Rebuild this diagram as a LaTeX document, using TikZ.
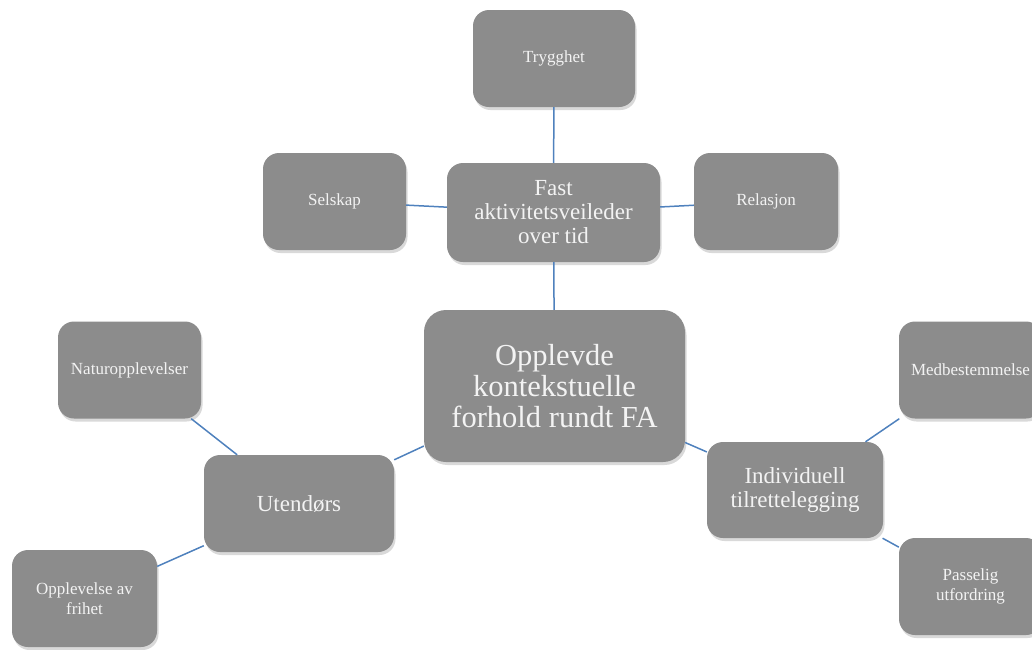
\documentclass[tikz,border=0pt]{standalone}
\usepackage{fontspec}
\setmainfont{Liberation Serif}
\usetikzlibrary{shadows}
\definecolor{boxgray}{RGB}{140,140,140}
\definecolor{linkblue}{RGB}{79,129,189}
\definecolor{boxtext}{RGB}{243,243,243}

\begin{document}
\begin{tikzpicture}[
			x=1pt, y=-1pt,
			box/.style={rectangle, rounded corners=16pt, minimum width=143pt, minimum height=97pt, align=center, fill=boxgray, text=boxtext, font=\fontsize{17}{20}\selectfont, drop shadow={opacity=0.3, shadow xshift=1.5pt, shadow yshift=-3pt}},
			midbox/.style={box, font=\fontsize{23}{24}\selectfont},
			mainbox/.style={box, rounded corners=22pt, font=\fontsize{30.5}{31}\selectfont},
			link/.style={draw=linkblue, line width=1.5pt}
			]
			\useasboundingbox (0,0) rectangle (1032,649);
			
			% Nodes
			\node[mainbox, minimum width=261pt, minimum height=152pt] (fa) at (554.5,386) {Opplevde\\kontekstuelle\\forhold rundt FA};
			
			\node[midbox, minimum width=213pt, minimum height=99pt] (fast) at (553.5,212.5) {Fast\\aktivitetsveileder\\over tid};
			\node[box, minimum width=162pt] (trygg) at (554,58.5) {Trygghet};
			\node[box] (selskap) at (334.5,201.5) {Selskap};
			\node[box, minimum width=144pt] (relasjon) at (766,201.5) {Relasjon};
			
			\node[midbox, minimum width=190pt] (ute) at (299,503.5) {Utendørs};
			\node[box] (natur) at (129.5,370) {Naturopplevelser};
			\node[box, minimum width=145pt] (frihet) at (84.5,598.5) {Opplevelse av\\frihet};
			
			\node[midbox, minimum width=176pt, minimum height=96pt] (individ) at (795,490) {Individuell\\tilrettelegging};
			\node[box] (medbest) at (970.5,370) {Medbestemmelse};
			\node[box] (passelig) at (970.5,586.5) {Passelig\\utfordring};
			
			% Links
			\draw[link] (fa) -- (fast);
			\draw[link] (fa) -- (ute);
			\draw[link] (fa) -- (individ);
			
			\draw[link] (fast) -- (trygg);
			\draw[link] (fast) -- (selskap);
			\draw[link] (fast) -- (relasjon);
			
			\draw[link] (ute) -- (natur);
			\draw[link] (ute) -- (frihet);
			
			\draw[link] (individ) -- (medbest);
			\draw[link] (individ) -- (passelig);
			
		\end{tikzpicture}
\end{document}
